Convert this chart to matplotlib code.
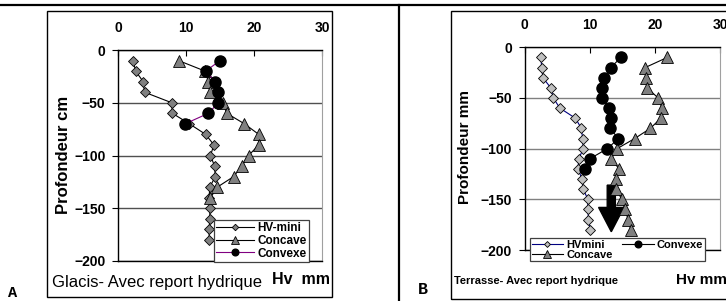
import matplotlib
matplotlib.use("Agg")
import matplotlib.pyplot as plt
from matplotlib.patches import Rectangle, FancyArrow
from matplotlib.lines import Line2D

plt.rcParams['font.family'] = ['Liberation Sans', 'DejaVu Sans']

# ---- data, panel A (Glacis) ----
depth_a_mini = [-10, -20, -30, -40, -50, -60, -70, -80, -90, -100,
                -110, -120, -130, -140, -150, -160, -170, -180]
hv_mini_a = [2.2, 2.6, 3.7, 3.9, 7.9, 8.0, 10.5, 12.9, 14.1, 13.6,
             14.2, 14.3, 13.5, 13.4, 13.5, 13.5, 13.4, 13.4]
depth_a_concave = [-10, -20, -30, -40, -50, -60, -70, -80, -90, -100,
                   -110, -120, -130, -140]
concave_a = [8.9, 12.8, 13.3, 13.5, 15.4, 16.0, 18.6, 20.7, 20.7, 19.2,
             18.2, 17.0, 14.6, 13.6]
depth_a_convexe = [-10, -20, -30, -40, -50, -60, -70]
convexe_a = [15.0, 12.9, 14.3, 14.75, 14.75, 13.3, 9.85]

# ---- data, panel B (Terrasse) ----
depth_b_mini = [-10, -20, -30, -40, -50, -60, -70, -80, -90, -100,
                -110, -120, -130, -140, -150, -160, -170, -180]
hv_mini_b = [2.5, 2.6, 2.8, 4.0, 4.4, 5.4, 7.8, 8.7, 8.9, 9.0,
             8.3, 8.2, 8.8, 9.0, 9.7, 9.7, 9.8, 10.1]
depth_b_concave = [-10, -20, -30, -40, -50, -60, -70, -80, -90, -100,
                   -110, -120, -130, -140, -150, -160, -170, -180]
concave_b = [21.9, 18.5, 18.6, 18.8, 20.5, 21.1, 20.9, 19.3, 16.9, 14.2,
             13.3, 14.5, 14.1, 14.1, 14.9, 15.4, 15.9, 16.3]
depth_b_convexe = [-10, -20, -30, -40, -50, -60, -70, -80, -90, -100,
                   -110, -120]
convexe_b = [14.8, 13.2, 12.2, 11.9, 11.9, 13.0, 13.3, 13.1, 14.4, 12.7,
             10.0, 9.2]

x_ticks = [0, 10, 20, 30]
y_ticks = [0, -50, -100, -150, -200]

W, H = 726, 301


def fx(px):
    return px / W


def fy(py):
    return 1 - py / H


def setup_axes(ax, grid_color):
    ax.set_xlim(0, 30)
    ax.set_ylim(-200, 0)
    ax.xaxis.tick_top()
    ax.set_xticks(x_ticks)
    ax.set_yticks(y_ticks)
    ax.tick_params(axis='x', direction='in', length=4, pad=11, labelsize=10, colors='black')
    ax.tick_params(axis='y', direction='out', length=4, pad=5, labelsize=10)
    for lab in ax.get_xticklabels() + ax.get_yticklabels():
        lab.set_fontweight('bold')
    ax.grid(axis='y', color=grid_color, lw=1.0)
    ax.grid(axis='x', visible=False)
    ax.set_axisbelow(True)
    ax.spines['right'].set_color('#a0a0a0')
    for s in ['left', 'top', 'bottom']:
        ax.spines[s].set_color('black')
        ax.spines[s].set_linewidth(1.0)


fig = plt.figure(figsize=(W / 100, H / 100), dpi=100)

# page decorations
fig.add_artist(Line2D([0, 1], [fy(5), fy(5)], color='black', lw=1.6))
fig.add_artist(Line2D([fx(399), fx(399)], [0, fy(5)], color='black', lw=1.6))
fig.add_artist(Rectangle((fx(47), fy(297)), fx(332) - fx(47), fy(11) - fy(297),
                         fill=False, ec='black', lw=1.0))
fig.add_artist(Rectangle((fx(451), fy(299)), fx(760) - fx(451), fy(11) - fy(299),
                         fill=False, ec='black', lw=1.0))

# ---- panel A ----
axA = fig.add_axes([fx(118), fy(261), fx(322) - fx(118), fy(50) - fy(261)])
setup_axes(axA, '#505050')
axA.plot(hv_mini_a, depth_a_mini, color='black', lw=0.8, marker='D', ms=5.5,
         mfc='#808080', mec='black', mew=0.6, label='HV-mini')
axA.plot(concave_a, depth_a_concave, color='black', lw=0.8, marker='^', ms=9,
         mfc='#808080', mec='black', mew=0.6, label='Concave')
axA.plot(convexe_a, depth_a_convexe, color='#800080', lw=0.8, marker='o', ms=8,
         mfc='black', mec='black', label='Convexe')
axA.legend(loc='upper left', bbox_to_anchor=(fx(214), fy(220)),
           bbox_transform=fig.transFigure, prop={'weight': 'bold', 'size': 8.5},
           frameon=True, fancybox=False, edgecolor='#404040', framealpha=1,
           borderpad=0.2, labelspacing=0.05, handlelength=3.2, handletextpad=0.3,
           borderaxespad=0, markerscale=0.6)
axA.get_legend().get_frame().set_linewidth(0.9)

fig.text(fx(63), fy(155), 'Profondeur cm', rotation=90, ha='center', va='center',
         fontsize=12, fontweight='bold')
fig.text(fx(52), fy(283), 'Glacis- Avec report hydrique', ha='left', va='center',
         fontsize=12)
fig.text(fx(330), fy(279), 'Hv  mm', ha='right', va='center', fontsize=11.5,
         fontweight='bold')
fig.text(fx(13), fy(293), 'A', ha='center', va='center', fontsize=11,
         fontweight='bold', family='Liberation Mono')

# ---- panel B ----
axB = fig.add_axes([fx(524.7), fy(250), fx(720) - fx(524.7), fy(47.3) - fy(250)])
setup_axes(axB, '#808080')
axB.plot(hv_mini_b, depth_b_mini, color='#000080', lw=0.8, marker='D', ms=5,
         mfc='#c0c0c0', mec='black', mew=0.6, label='HVmini')
axB.plot(concave_b, depth_b_concave, color='black', lw=0.8, marker='^', ms=9,
         mfc='#808080', mec='black', mew=0.6, label='Concave')
axB.plot(convexe_b, depth_b_convexe, color='black', lw=0.8, marker='o', ms=8,
         mfc='black', mec='black', label='Convexe')
axB.add_patch(FancyArrow(13.3, -136, 0, -46, width=1.25, head_width=3.9,
                         head_length=24, length_includes_head=True,
                         color='black', zorder=1.5))
axB.legend(ncol=2, loc='upper left', bbox_to_anchor=(fx(530), fy(238)),
           bbox_transform=fig.transFigure, prop={'weight': 'bold', 'size': 8},
           frameon=True, fancybox=False, edgecolor='#404040', framealpha=1,
           borderpad=0.15, labelspacing=0.0, handlelength=2.8, handletextpad=0.3,
           columnspacing=0.9, borderaxespad=0, markerscale=0.6)
axB.get_legend().get_frame().set_linewidth(0.9)

fig.text(fx(465), fy(147), 'Profondeur mm', rotation=90, ha='center', va='center',
         fontsize=11, fontweight='bold')
fig.text(fx(454), fy(281), 'Terrasse- Avec report hydrique', ha='left', va='center',
         fontsize=8, fontweight='bold')
fig.text(fx(727), fy(280), 'Hv mm', ha='right', va='center', fontsize=11,
         fontweight='bold')
fig.text(fx(423), fy(289), 'B', ha='center', va='center', fontsize=12,
         fontweight='bold', family='Liberation Mono')

fig.savefig('out.png', dpi=100)
